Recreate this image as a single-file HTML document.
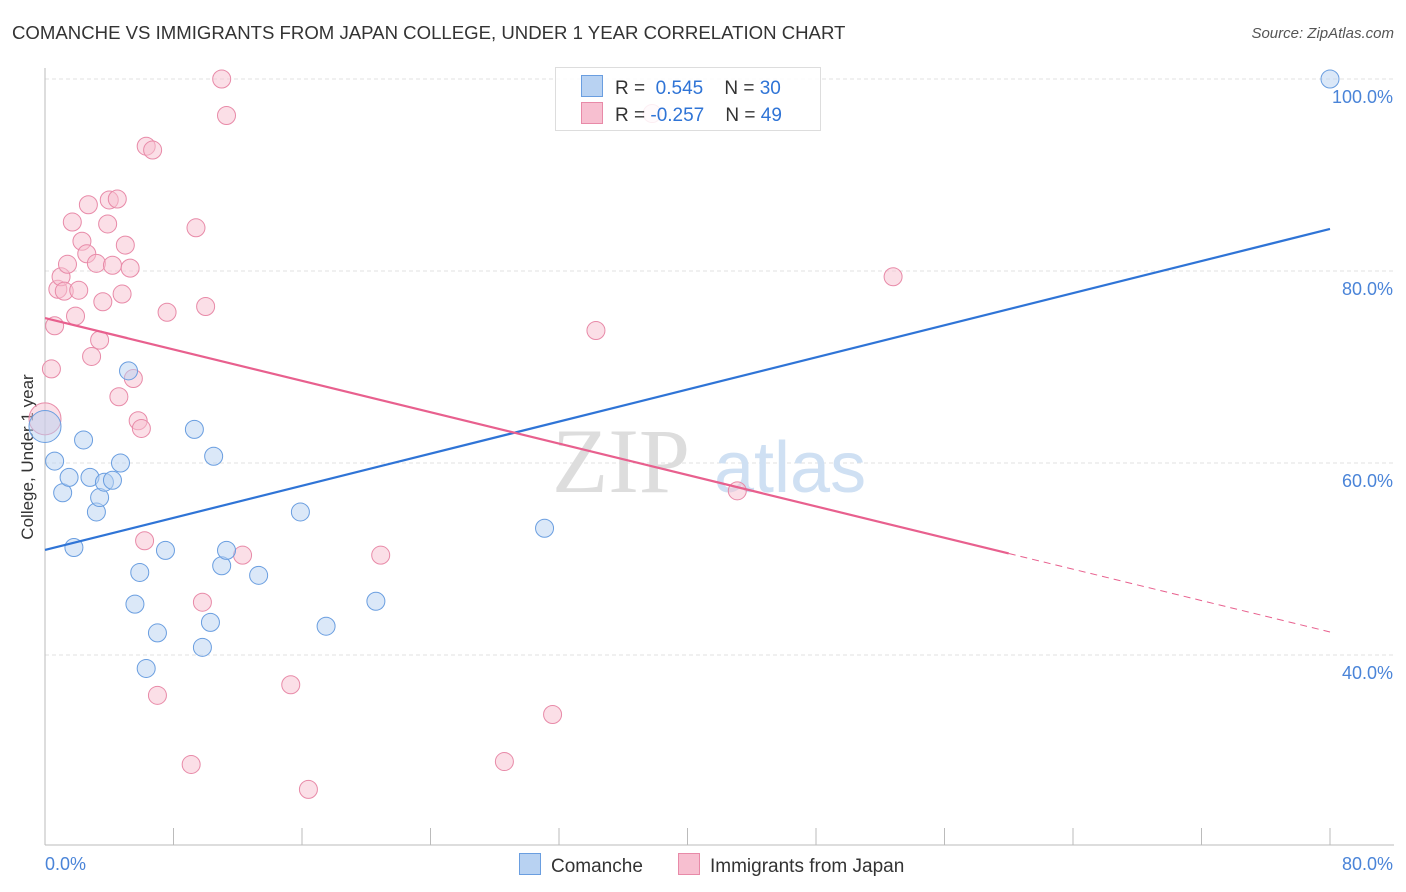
<!DOCTYPE html>
<html><head><meta charset="utf-8">
<style>
body{margin:0;background:#fff;font-family:"Liberation Sans",sans-serif;}
#wrap{position:relative;width:1406px;height:892px;overflow:hidden;}
.t{position:absolute;white-space:nowrap;}
</style></head>
<body>
<div id="wrap">
<div class="t" style="left:12px;top:22px;font-size:18.6px;color:#333;">COMANCHE VS IMMIGRANTS FROM JAPAN COLLEGE, UNDER 1 YEAR CORRELATION CHART</div>
<div class="t" style="right:12px;top:25px;font-size:15px;color:#555;font-style:italic;">Source: ZipAtlas.com</div>
<svg id="svg" width="1406" height="892" style="position:absolute;left:0;top:0"></svg>
</div>
<script>
const blueX=[0,0.6,1.1,1.5,1.8,2.4,2.8,3.2,3.4,3.7,4.2,4.7,5.2,5.6,5.9,6.3,7.0,7.5,9.3,9.8,10.3,10.5,11.0,11.3,13.3,15.9,17.5,20.6,31.1,80];
const blueY=[63.8,60.2,56.9,58.5,51.2,62.4,58.5,54.9,56.4,58.0,58.2,60.0,69.6,45.3,48.6,38.6,42.3,50.9,63.5,40.8,43.4,60.7,49.3,50.9,48.3,54.9,43.0,45.6,53.2,100];
const pinkX=[0,0.4,0.6,0.8,1.0,1.2,1.4,1.7,1.9,2.1,2.3,2.6,2.7,2.9,3.2,3.4,3.6,3.9,4.0,4.2,4.5,4.6,4.8,5.0,5.3,5.5,5.8,6.0,6.2,6.3,6.7,7.0,7.6,9.1,9.4,9.8,10.0,11.0,11.3,12.3,15.3,16.4,20.9,28.6,31.6,34.3,37.8,43.1,52.8];
const pinkY=[64.6,69.8,74.3,78.1,79.4,77.9,80.7,85.1,75.3,78.0,83.1,81.8,86.9,71.1,80.8,72.8,76.8,84.9,87.4,80.6,87.5,66.9,77.6,82.7,80.3,68.8,64.4,63.6,51.9,93.0,92.6,35.8,75.7,28.6,84.5,45.5,76.3,100,96.2,50.4,36.9,26.0,50.4,28.9,33.8,73.8,96.4,57.1,79.4];
const blueFit=[50.94,84.38];
const pinkFit=[75.1,42.4];
const xTicks=[0,80];
const yTicks=[40,60,80,100];

const sx=v=>45+v*1285/80;
const sy=v=>79+(100-v)*9.6;
const svg=document.getElementById('svg');
const NS='http://www.w3.org/2000/svg';
function mk(tag,attrs){const e=document.createElementNS(NS,tag);for(const k in attrs)e.setAttribute(k,attrs[k]);svg.appendChild(e);return e;}
yTicks.forEach(v=>{const g=mk('line',{x1:45,x2:1394,y1:sy(v),y2:sy(v),stroke:'#e2e2e2','stroke-dasharray':'4,3'});


const t=mk('text',{x:1393,y:sy(v)+24,'text-anchor':'end','font-size':18,fill:'#4a84d8'});t.textContent=v.toFixed(1)+'%';

});
const ax=mk('line',{x1:45,x2:1394,y1:845,y2:845,stroke:'#bbb'});


const ay=mk('line',{x1:45,x2:45,y1:68,y2:845,stroke:'#bbb'});


for(let i=0;i<=10;i++){const x=sx(i*8);const tk=mk('line',{x1:x,x2:x,y1:828,y2:845,stroke:'#bbb'});

}
xTicks.forEach((v,i)=>{const t=mk('text',{x:i==0?45:1393,y:870,'text-anchor':i==0?'start':'end','font-size':18,fill:'#4a84d8'});t.textContent=v.toFixed(1)+'%';

});
const yl=mk('text',{x:33,y:457,transform:'rotate(-90 33 457)','text-anchor':'middle','font-size':17,fill:'#333'});yl.textContent='College, Under 1 year';


const wm=mk('text',{x:552,y:492,'font-size':92,fill:'#ddd','font-family':'Liberation Serif'});wm.textContent='ZIP';


const wm2=mk('text',{x:714,y:492,'font-size':72,fill:'#cfe0f3'});wm2.textContent='atlas';


function pts(X,Y,fill,stroke,name){X.forEach((x,i)=>{const big=(x===0);const c=mk('circle',{cx:sx(x),cy:sy(Y[i]),r:big?16:9,fill:fill,stroke:stroke,'stroke-width':1,'fill-opacity':0.5});

});}
pts(pinkX,pinkY,'#f7bfd0','#e88aa8','point-japan');
pts(blueX,blueY,'#b8d2f2','#6a9ee0','point-comanche');
const bl=mk('line',{x1:sx(0),y1:sy(blueFit[0]),x2:sx(80),y2:sy(blueFit[1]),stroke:'#2f74d6','stroke-width':2.2});


const pAt=x=>pinkFit[0]+(pinkFit[1]-pinkFit[0])*x/80;
const pl=mk('line',{x1:sx(0),y1:sy(pAt(0)),x2:sx(60),y2:sy(pAt(60)),stroke:'#e8608e','stroke-width':2.2});


const pd=mk('line',{x1:sx(60),y1:sy(pAt(60)),x2:sx(80),y2:sy(pAt(80)),stroke:'#e8608e','stroke-width':1,'stroke-dasharray':'7,5'});


</script>
<div class="t" style="left:555px;top:67px;width:264px;height:62px;border:1px solid #ddd;background:rgba(255,255,255,0.85);"></div>
<div class="t" style="left:581px;top:75px;font-size:19px;color:#333;"><span style="display:inline-block;width:20px;height:20px;background:#b8d2f2;border:1px solid #6a9ee0;vertical-align:-3px;margin-right:12px"></span>R = &nbsp;<span style="color:#2f74d6">0.545</span>&nbsp;&nbsp;&nbsp; N = <span style="color:#2f74d6">30</span></div>
<div class="t" style="left:581px;top:102px;font-size:19px;color:#333;"><span style="display:inline-block;width:20px;height:20px;background:#f7bfd0;border:1px solid #e88aa8;vertical-align:-3px;margin-right:12px"></span>R = <span style="color:#2f74d6">-0.257</span>&nbsp;&nbsp;&nbsp; N = <span style="color:#2f74d6">49</span></div>
<div class="t" style="left:519px;top:853px;font-size:19px;color:#333;"><span style="display:inline-block;width:20px;height:20px;background:#b8d2f2;border:1px solid #6a9ee0;vertical-align:-3px;margin-right:10px"></span>Comanche</div>
<div class="t" style="left:678px;top:853px;font-size:19px;color:#333;"><span style="display:inline-block;width:20px;height:20px;background:#f7bfd0;border:1px solid #e88aa8;vertical-align:-3px;margin-right:10px"></span>Immigrants from Japan</div>
</body></html>
